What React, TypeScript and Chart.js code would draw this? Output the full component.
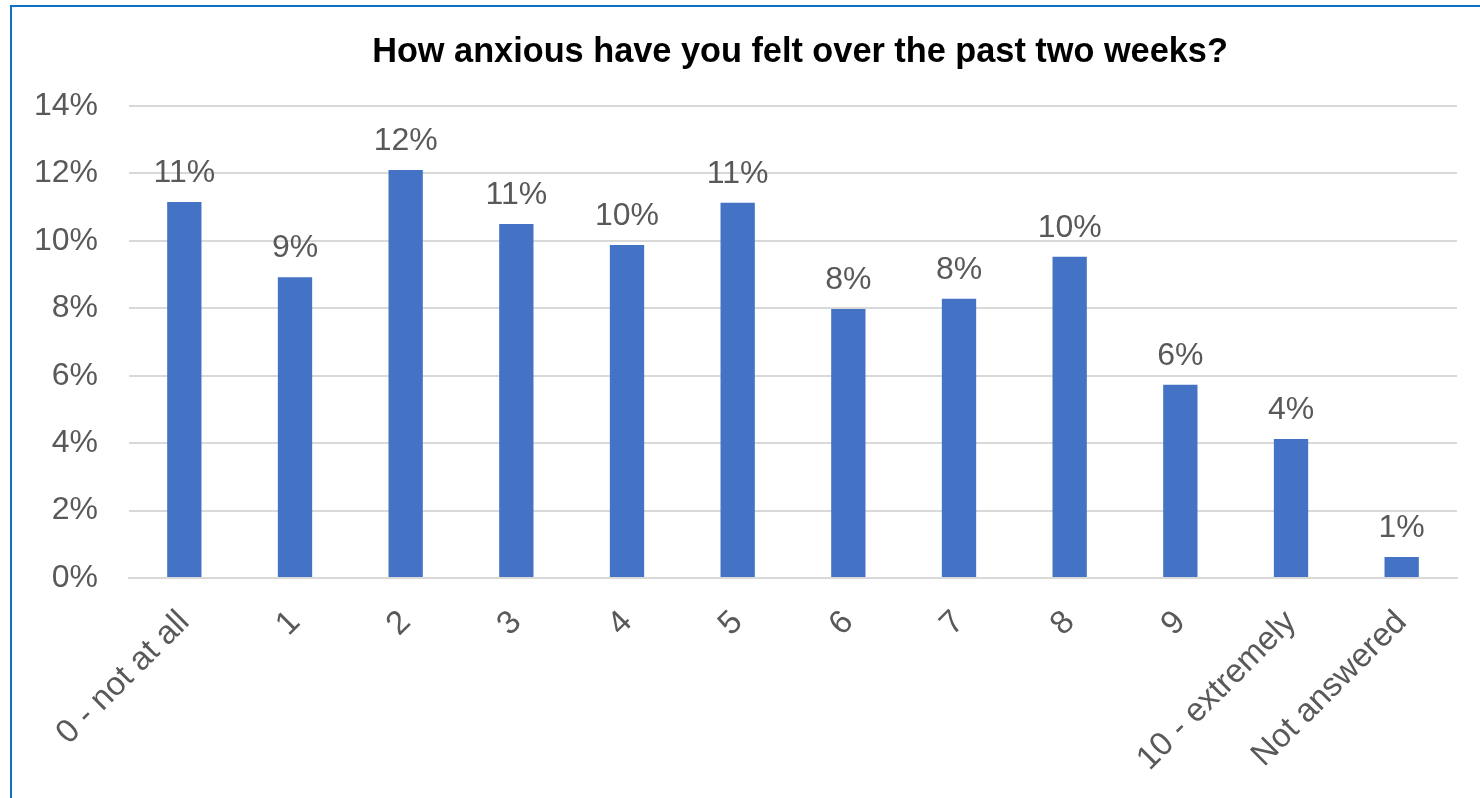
import React, { useEffect, useRef } from "react";
import { Chart, registerables } from "chart.js";

Chart.register(...registerables);

const TITLE = "How anxious have you felt over the past two weeks?";
const categories = ["0 - not at all", "1", "2", "3", "4", "5", "6", "7", "8", "9", "10 - extremely", "Not answered"];
const values = [11.15, 8.92, 12.1, 10.5, 9.88, 11.13, 7.98, 8.28, 9.53, 5.73, 4.12, 0.62];
const yTicks = [0, 2, 4, 6, 8, 10, 12, 14];

const FONT = '"Liberation Sans", Arial, sans-serif';
const GRAY = "#595959";

export default function App() {
  const ref = useRef<HTMLCanvasElement>(null);
  useEffect(() => {
    const canvas = ref.current!;
    const dataLabels = {
      id: "dataLabels",
      afterDatasetsDraw(chart: any) {
        const ctx = chart.ctx;
        const meta = chart.getDatasetMeta(0);
        ctx.save();
        ctx.font = `32px ${FONT}`;
        ctx.fillStyle = GRAY;
        ctx.textAlign = "center";
        ctx.textBaseline = "alphabetic";
        meta.data.forEach((bar: any, i: number) => {
          ctx.fillText(`${Math.round(values[i])}%`, bar.x, bar.y - 20);
        });
        ctx.restore();
      },
    };
    const titlePlugin = {
      id: "customTitle",
      afterDraw(chart: any) {
        const ctx = chart.ctx;
        ctx.save();
        ctx.font = `bold 34.3px ${FONT}`;
        ctx.fillStyle = "#000000";
        ctx.textAlign = "center";
        ctx.textBaseline = "alphabetic";
        ctx.fillText(TITLE, 800, 62);
        ctx.restore();
      },
    };
    const chart = new Chart(canvas, {
      type: "bar",
      data: {
        labels: categories,
        datasets: [
          {
            data: values,
            backgroundColor: "#4472C4",
            borderWidth: 0,
            categoryPercentage: 1,
            barPercentage: 0.31,
          },
        ],
      },
      options: {
        responsive: false,
        animation: false,
        devicePixelRatio: 1,
        layout: { padding: { left: 0, right: 23, top: 106, bottom: 0 } },
        plugins: {
          legend: { display: false },
          title: { display: false },
          tooltip: { enabled: false },
        },
        scales: {
          x: {
            grid: { display: false, drawTicks: false },
            border: { display: true, color: "#d9d9d9", width: 2 },
            ticks: {
              autoSkip: false,
              minRotation: 45,
              maxRotation: 45,
              padding: 25,
              color: GRAY,
              font: { family: FONT, size: 33 },
            },
            afterFit(scale: any) {
              scale.height = 798 - 578;
            },
          },
          y: {
            min: 0,
            max: 14,
            afterBuildTicks(scale: any) {
              scale.ticks = yTicks.map((v) => ({ value: v }));
            },
            grid: { color: "#d9d9d9", lineWidth: 2, drawTicks: false },
            border: { display: false },
            ticks: {
              padding: 31,
              color: GRAY,
              font: { family: FONT, size: 32 },
              callback: (v: any) => `${v}%`,
            },
            afterFit(scale: any) {
              scale.width = 129;
            },
          },
        },
      },
      plugins: [dataLabels, titlePlugin],
    });
    return () => chart.destroy();
  }, []);

  return (
    <div style={{ position: "fixed", left: 0, top: 0, width: 1480, height: 798, overflow: "hidden", background: "#fff" }}>
      <div
        style={{
          position: "absolute",
          left: 10,
          top: 5,
          width: 2000,
          height: 2000,
          borderTop: "2px solid #0a70c8",
          borderLeft: "2px solid #0a70c8",
        }}
      />
      <canvas ref={ref} width={1480} height={798} style={{ position: "absolute", left: 0, top: 0 }} />
    </div>
  );
}
